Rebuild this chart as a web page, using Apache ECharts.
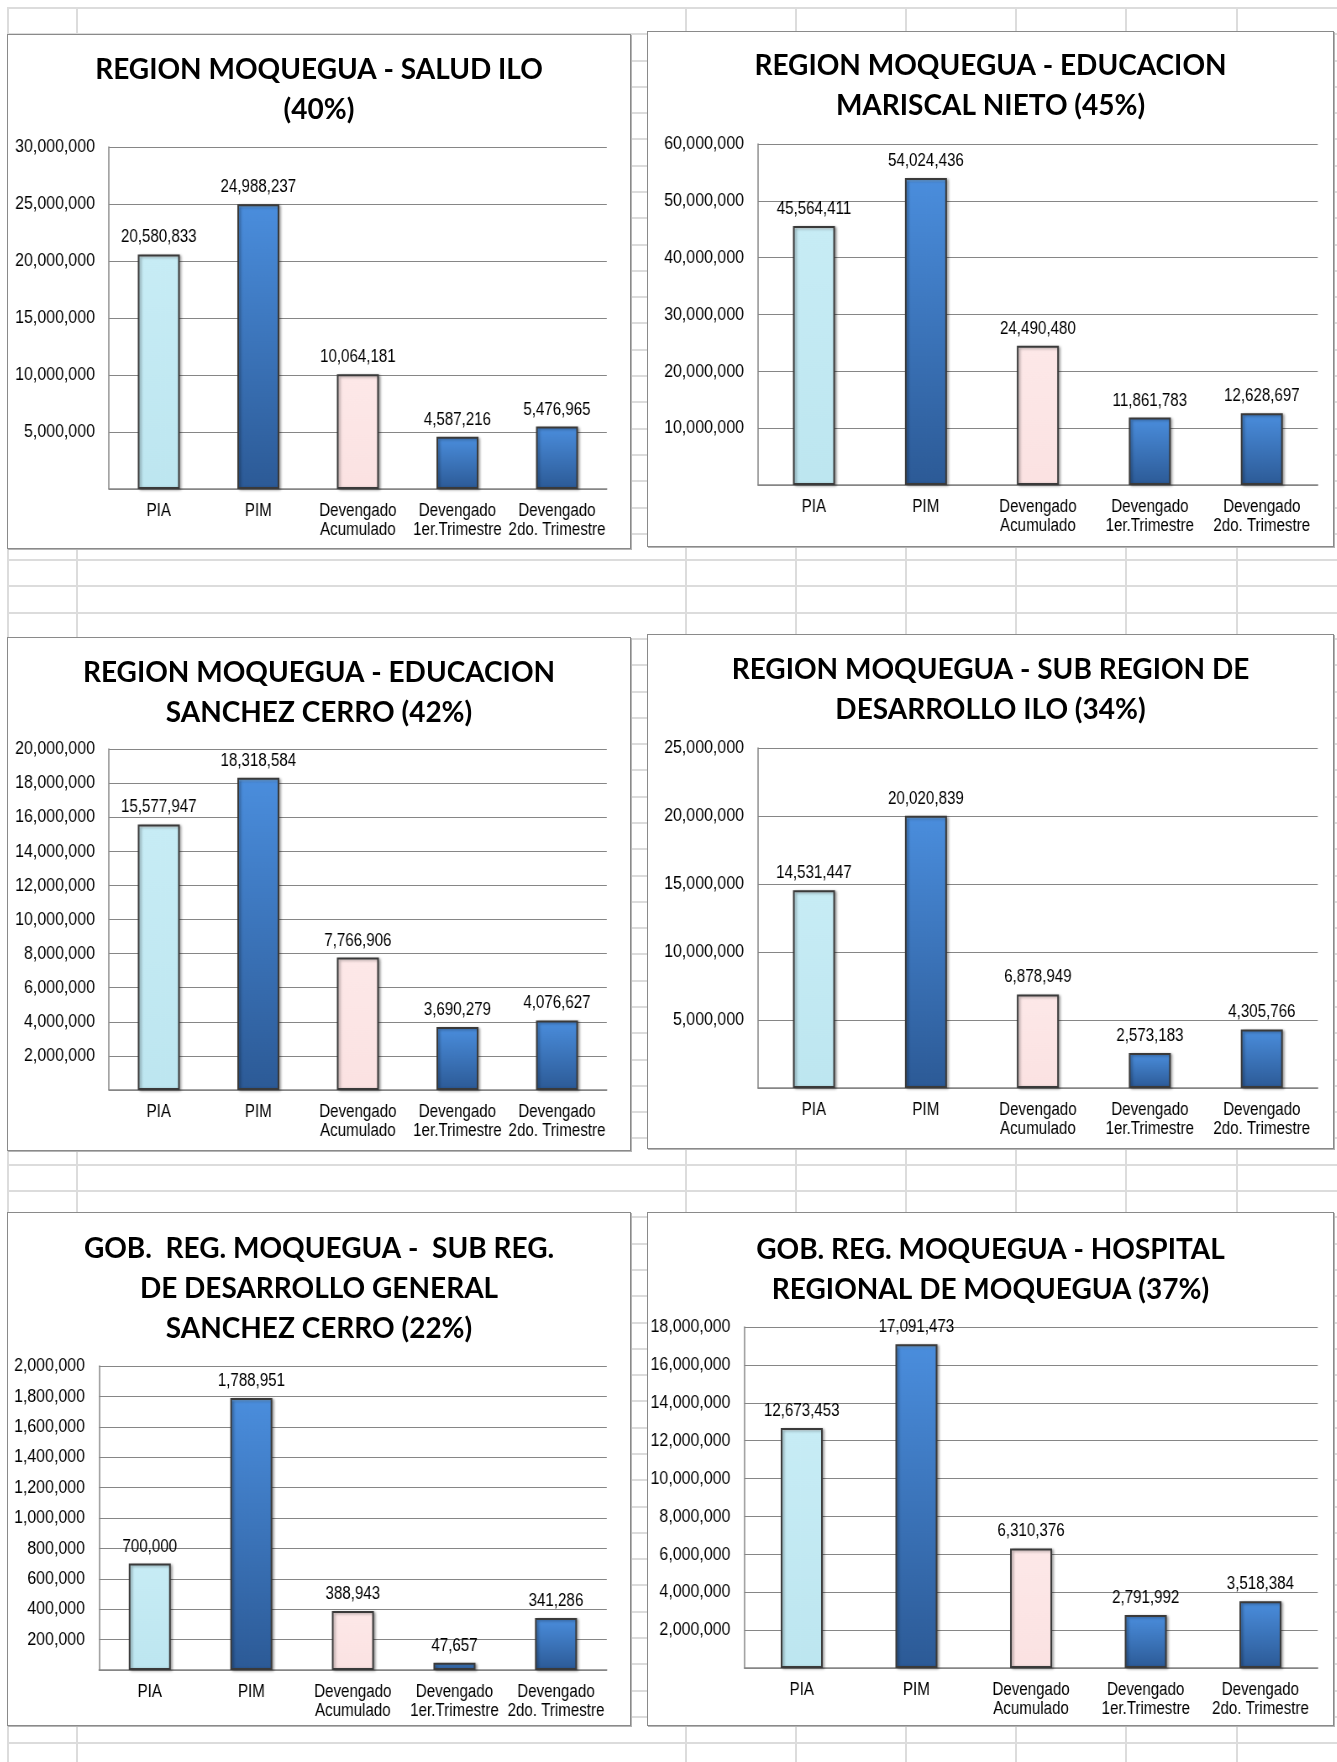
<!DOCTYPE html>
<html><head><meta charset="utf-8">
<script src="https://cdn.jsdelivr.net/npm/echarts@6/dist/echarts.min.js"></script>
<style>
html,body{margin:0;padding:0;background:#fff;}
body{width:1337px;height:1762px;position:relative;overflow:hidden;}
.hl{position:absolute;left:7px;right:0;height:2px;background:#dcdcdc;}
.vl{position:absolute;top:7px;bottom:0;width:2px;background:#dcdcdc;}
.box{position:absolute;background:#fff;border:1.5px solid #8a8a8a;box-shadow:1px 1px 0 #b4b4b4;box-sizing:border-box;}
.ttl{position:absolute;left:0;top:0;right:0;bottom:0;}
.plot{position:absolute;left:0;top:0;transform-origin:0 0;}
</style></head><body>
<script>
// ---- data ----
const categories = ['PIA', 'PIM', 'Devengado\nAcumulado', 'Devengado\n1er.Trimestre', 'Devengado\n2do. Trimestre'];
const saludIlo = [20580833, 24988237, 10064181, 4587216, 5476965];
const educMariscalNieto = [45564411, 54024436, 24490480, 11861783, 12628697];
const educSanchezCerro = [15577947, 18318584, 7766906, 3690279, 4076627];
const subRegionIlo = [14531447, 20020839, 6878949, 2573183, 4305766];
const subRegSanchezCerro = [700000, 1788951, 388943, 47657, 341286];
const hospitalMoquegua = [12673453, 17091473, 6310376, 2791992, 3518384];
const titles = [
  'REGION MOQUEGUA - SALUD ILO\n(40%)',
  'REGION MOQUEGUA - EDUCACION\nMARISCAL NIETO (45%)',
  'REGION MOQUEGUA - EDUCACION\nSANCHEZ CERRO (42%)',
  'REGION MOQUEGUA - SUB REGION DE\nDESARROLLO ILO (34%)',
  'GOB.  REG. MOQUEGUA -  SUB REG.\nDE DESARROLLO GENERAL\nSANCHEZ CERRO (22%)',
  'GOB. REG. MOQUEGUA - HOSPITAL\nREGIONAL DE MOQUEGUA (37%)'
];
const axisMax = [30000000, 60000000, 20000000, 25000000, 2000000, 18000000];
const axisInterval = [5000000, 10000000, 2000000, 5000000, 200000, 2000000];
const seriesList = [saludIlo, educMariscalNieto, educSanchezCerro, subRegionIlo, subRegSanchezCerro, hospitalMoquegua];

// ---- spreadsheet background ----
for (let k = 0; k <= 66; k++) {
  const d = document.createElement('div'); d.className = 'hl';
  d.style.top = Math.round(7 + 26.29 * k) + 'px'; document.body.appendChild(d);
}
[7, 76, 685, 795, 905, 1015, 1125, 1236].forEach(x => {
  const d = document.createElement('div'); d.className = 'vl';
  d.style.left = x + 'px'; document.body.appendChild(d);
});

// ---- layout ----
const S = 0.84; // horizontal condensing of plot text (narrow font look)
const boxes = [
  {l: 7,   t: 34,   w: 624, h: 515, g: {left: 101, right: 22, top: 112, bottom: 58}, tt: 10},
  {l: 647, t: 31,   w: 687, h: 516, g: {left: 110, right: 14, top: 112, bottom: 60}, tt: 9},
  {l: 7,   t: 637,  w: 624, h: 514, g: {left: 101, right: 22, top: 111, bottom: 59}, tt: 10},
  {l: 647, t: 634,  w: 687, h: 515, g: {left: 110, right: 14, top: 113, bottom: 59}, tt: 10},
  {l: 7,   t: 1212, w: 624, h: 514, g: {left: 91,  right: 22, top: 153, bottom: 54}, tt: 11},
  {l: 647, t: 1212, w: 687, h: 514, g: {left: 92,  right: 14, top: 114, bottom: 56}, tt: 12}
];

const numFont = "'Liberation Sans', Arial, sans-serif";
const fmt = v => Number(v).toLocaleString('en-US');

const blueGrad = {type: 'linear', x: 0, y: 0, x2: 0, y2: 1, colorStops: [
  {offset: 0, color: '#8cc0f2'}, {offset: 0.015, color: '#4a8ddc'}, {offset: 1, color: '#2c5a96'}]};
const cyanGrad = {type: 'linear', x: 0, y: 0, x2: 0, y2: 1, colorStops: [
  {offset: 0, color: '#ffffff'}, {offset: 0.015, color: '#c7ecf5'}, {offset: 1, color: '#bde6f0'}]};
const pinkGrad = {type: 'linear', x: 0, y: 0, x2: 0, y2: 1, colorStops: [
  {offset: 0, color: '#ffffff'}, {offset: 0.02, color: '#fde8e8'}, {offset: 1, color: '#fbe2e2'}]};
const barFills = [cyanGrad, blueGrad, pinkGrad, blueGrad, blueGrad];

boxes.forEach((b, i) => {
  const box = document.createElement('div'); box.className = 'box';
  box.style.left = b.l + 'px'; box.style.top = b.t + 'px';
  box.style.width = b.w + 'px'; box.style.height = b.h + 'px';
  document.body.appendChild(box);
  const innerW = b.w - 3, innerH = b.h - 3;

  // title layer (not condensed)
  const tdiv = document.createElement('div'); tdiv.className = 'ttl'; box.appendChild(tdiv);
  echarts.init(tdiv).setOption({
    animation: false,
    title: {
      text: titles[i], left: 'center', top: b.tt,
      textStyle: {fontFamily: 'Lato', fontWeight: 'bold', fontSize: 28, lineHeight: 40, color: '#000'}
    }
  });

  // plot layer (horizontally condensed to mimic the narrow font)
  const pdiv = document.createElement('div'); pdiv.className = 'plot';
  pdiv.style.width = (innerW / S) + 'px'; pdiv.style.height = innerH + 'px';
  pdiv.style.transform = 'scaleX(' + S + ')';
  box.appendChild(pdiv);
  echarts.init(pdiv).setOption({
    animation: false,
    grid: {left: b.g.left / S, right: b.g.right / S, top: b.g.top, bottom: b.g.bottom},
    xAxis: {
      type: 'category', data: categories,
      axisLine: {lineStyle: {color: '#868686', width: 1.5}},
      axisTick: {show: false},
      axisLabel: {interval: 0, margin: 13, fontFamily: numFont, fontSize: 18, lineHeight: 19, color: '#000'}
    },
    yAxis: {
      type: 'value', min: 0, max: axisMax[i], interval: axisInterval[i],
      axisLine: {show: true, lineStyle: {color: '#868686', width: 1.5}},
      axisTick: {show: false},
      splitLine: {lineStyle: {color: '#868686', width: 1.2}},
      axisLabel: {margin: 14 / S, fontFamily: numFont, fontSize: 19, color: '#000',
        formatter: v => v === 0 ? '' : fmt(v)}
    },
    series: [{
      type: 'bar', barWidth: 42 / S,
      data: seriesList[i].map((v, j) => ({value: v, itemStyle: {color: barFills[j]}})),
      itemStyle: {borderColor: '#3a3a3a', borderWidth: 2,
        shadowColor: 'rgba(0,0,0,0.35)', shadowBlur: 3, shadowOffsetX: 2, shadowOffsetY: 1},
      label: {show: true, position: 'top', distance: 8, fontFamily: numFont, fontSize: 18, color: '#000',
        formatter: p => fmt(p.value)}
    }]
  });
});
</script>
</body></html>
